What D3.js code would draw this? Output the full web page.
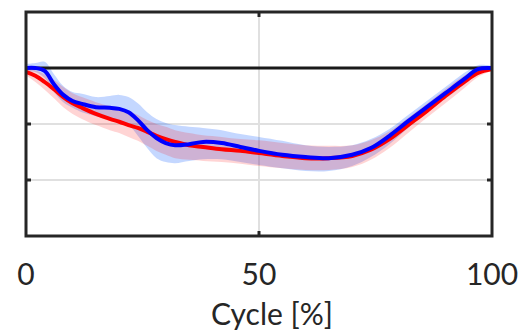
<!DOCTYPE html>
<html>
<head>
<meta charset="utf-8">
<script src="https://cdn.jsdelivr.net/npm/d3@7"></script>
<style>
  body { margin: 0; background: #fff; }
  text { font-family: Lato, "Open Sans", sans-serif; fill: #262626; }
</style>
</head>
<body>
<div class="chart"></div>
<script>
// cycle positions (%)
var cycle = [0, 2, 4, 6, 8, 10, 12, 15, 18, 20, 22, 24, 26, 28, 30, 32, 35, 38, 42, 46, 50, 55, 60, 65, 70, 74, 78, 82, 86, 90, 94, 97, 100];

// red series: mean and band
var redMean = [-0.07, -0.14, -0.25, -0.38, -0.52, -0.63, -0.71, -0.82, -0.91, -0.96, -1.02, -1.07, -1.14, -1.21, -1.27, -1.32, -1.38, -1.41, -1.45, -1.48, -1.52, -1.57, -1.61, -1.61, -1.57, -1.46, -1.27, -1.02, -0.77, -0.50, -0.25, -0.09, -0.02];
var redUpper = [0.00, -0.04, -0.11, -0.21, -0.34, -0.45, -0.52, -0.61, -0.68, -0.71, -0.77, -0.84, -0.93, -1.00, -1.05, -1.11, -1.16, -1.20, -1.23, -1.27, -1.29, -1.34, -1.38, -1.39, -1.38, -1.29, -1.13, -0.89, -0.64, -0.38, -0.14, -0.02, 0.02];
var redLower = [-0.13, -0.25, -0.39, -0.54, -0.70, -0.82, -0.91, -1.02, -1.11, -1.16, -1.23, -1.30, -1.39, -1.48, -1.55, -1.61, -1.64, -1.66, -1.68, -1.71, -1.75, -1.79, -1.82, -1.82, -1.77, -1.64, -1.43, -1.16, -0.89, -0.63, -0.36, -0.16, -0.05];

// blue series: mean and band
var blueMean = [0.00, 0.00, -0.05, -0.29, -0.48, -0.59, -0.64, -0.70, -0.71, -0.73, -0.79, -0.93, -1.11, -1.25, -1.34, -1.38, -1.36, -1.32, -1.34, -1.41, -1.48, -1.55, -1.59, -1.61, -1.55, -1.43, -1.21, -0.95, -0.70, -0.45, -0.20, -0.02, 0.00];
var blueUpper = [0.07, 0.09, 0.11, -0.11, -0.32, -0.43, -0.46, -0.52, -0.50, -0.48, -0.52, -0.63, -0.79, -0.91, -0.98, -1.02, -1.05, -1.07, -1.11, -1.18, -1.23, -1.30, -1.38, -1.41, -1.38, -1.27, -1.09, -0.84, -0.59, -0.34, -0.09, 0.05, 0.04];
var blueLower = [-0.07, -0.07, -0.18, -0.43, -0.61, -0.71, -0.79, -0.86, -0.91, -0.95, -1.02, -1.21, -1.43, -1.61, -1.68, -1.70, -1.66, -1.63, -1.63, -1.68, -1.73, -1.79, -1.84, -1.84, -1.75, -1.59, -1.36, -1.07, -0.80, -0.55, -0.30, -0.11, -0.04];

var xTicks = [0, 50, 100];
var yTicks = [-3, -2, -1, 0, 1];
var xLabel = 'Cycle [%]';

var width = 525,
	height = 333;

var svg = d3.select('.chart').append('svg')
		.attr('width', width)
		.attr('height', height);

var x = d3.scaleLinear().domain([0, 100]).range([26, 492]);
var y = d3.scaleLinear().domain([-3, 1]).range([236, 12]);

// grid
svg.append('g').selectAll('line.hgrid')
	.data(yTicks.filter(function(d) { return d > -3 && d < 1 && d !== 0; }))
	.enter().append('line')
	.attr('x1', x(0)).attr('x2', x(100))
	.attr('y1', y).attr('y2', y)
	.style('stroke', '#e0e0e0')
	.style('stroke-width', 2);
svg.append('line')
	.attr('x1', x(50)).attr('x2', x(50))
	.attr('y1', y(1)).attr('y2', y(-3))
	.style('stroke', '#e0e0e0')
	.style('stroke-width', 2);

function band(lo, hi) {
	return d3.area()
		.x(function(d, i) { return x(cycle[i]); })
		.y0(function(d, i) { return y(lo[i]); })
		.y1(function(d, i) { return y(hi[i]); })
		.curve(d3.curveCatmullRom)(cycle);
}
function line(vals) {
	return d3.line()
		.x(function(d, i) { return x(cycle[i]); })
		.y(function(d, i) { return y(vals[i]); })
		.curve(d3.curveCatmullRom)(cycle);
}

svg.append('path').attr('d', band(blueLower, blueUpper))
	.attr('fill', 'rgb(0,80,255)').attr('fill-opacity', 0.23);
svg.append('path').attr('d', band(redLower, redUpper))
	.attr('fill', 'rgb(255,0,0)').attr('fill-opacity', 0.17);

// zero reference line
svg.append('line')
	.attr('x1', x(0)).attr('x2', x(100))
	.attr('y1', y(0)).attr('y2', y(0))
	.style('stroke', '#1a1a1a')
	.style('stroke-width', 3);

svg.append('path').attr('d', line(redMean))
	.attr('fill', 'none').style('stroke', '#ff0000').style('stroke-width', 4);
svg.append('path').attr('d', line(blueMean))
	.attr('fill', 'none').style('stroke', '#0000ff').style('stroke-width', 4);

// frame
svg.append('rect')
	.attr('x', x(0)).attr('y', y(1))
	.attr('width', x(100) - x(0)).attr('height', y(-3) - y(1))
	.attr('fill', 'none')
	.style('stroke', '#262626')
	.style('stroke-width', 3);

// inner ticks
var ticks = svg.append('g').style('stroke', '#262626').style('stroke-width', 3);
[-2, -1].forEach(function(v) {
	ticks.append('line').attr('x1', x(0)).attr('x2', x(0) + 5).attr('y1', y(v)).attr('y2', y(v));
	ticks.append('line').attr('x1', x(100)).attr('x2', x(100) - 5).attr('y1', y(v)).attr('y2', y(v));
});
ticks.append('line').attr('x1', x(50)).attr('x2', x(50)).attr('y1', y(1)).attr('y2', y(1) + 5);
ticks.append('line').attr('x1', x(50)).attr('x2', x(50)).attr('y1', y(-3)).attr('y2', y(-3) - 5);

// tick labels
svg.append('g').selectAll('text')
	.data(xTicks)
	.enter().append('text')
	.attr('x', x)
	.attr('y', 285)
	.attr('text-anchor', 'middle')
	.style('font-size', '30px')
	.text(function(d) { return d; });

svg.append('text')
	.attr('x', 272)
	.attr('y', 325)
	.attr('text-anchor', 'middle')
	.style('font-size', '30px')
	.text(xLabel);
</script>
</body>
</html>
